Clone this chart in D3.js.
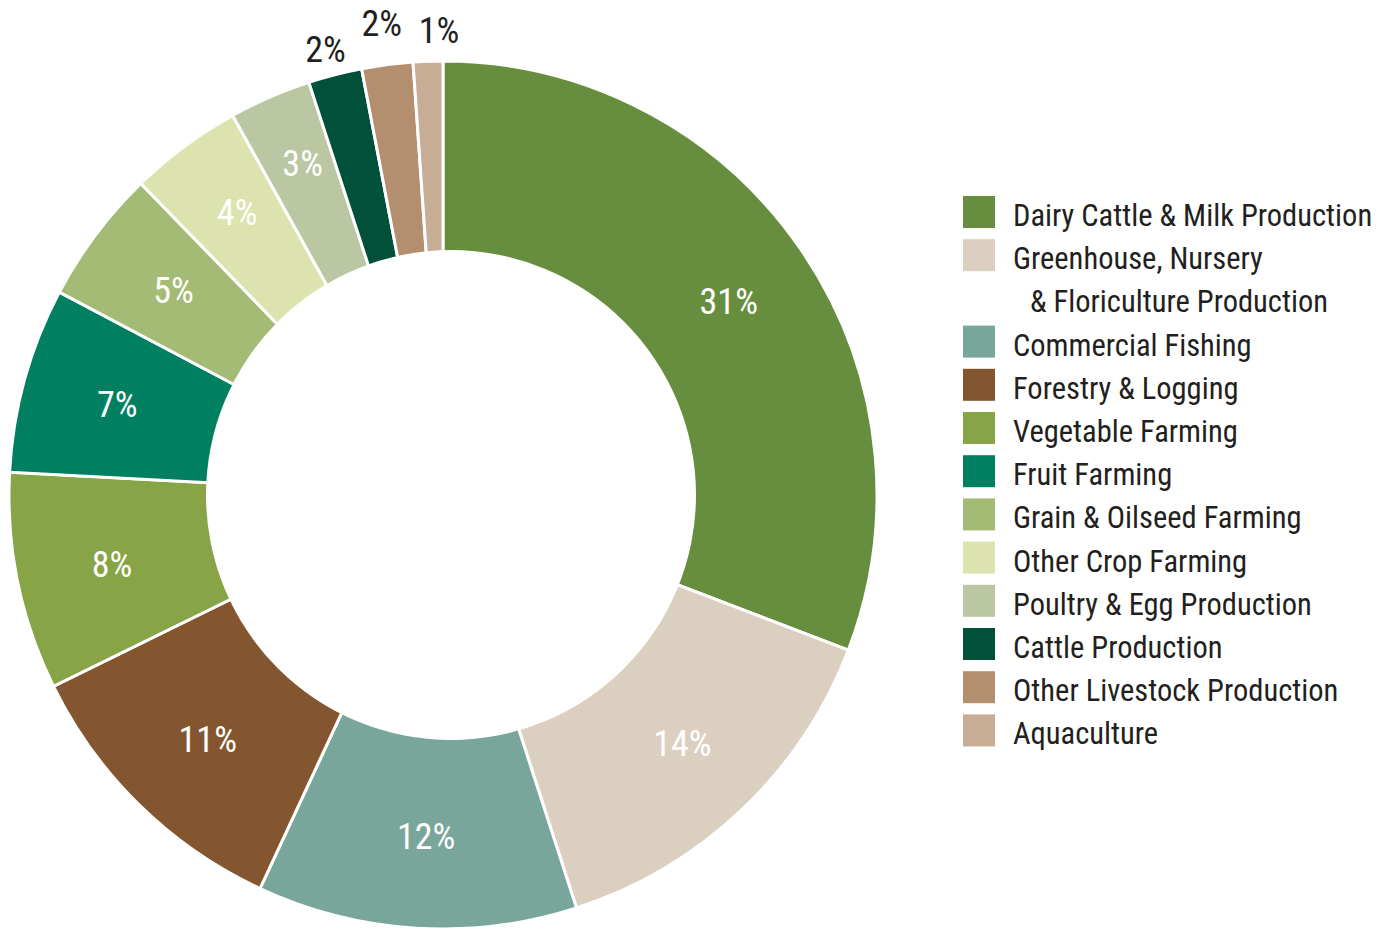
<!DOCTYPE html>
<html>
<head>
<meta charset="utf-8">
<script src="https://cdn.jsdelivr.net/npm/d3@7"></script>
<style>
  html, body { margin: 0; padding: 0; background: #fff; }
  svg { display: block; }
  text { font-family: "Liberation Sans Narrow", "Roboto Condensed", "Liberation Sans", sans-serif; }
</style>
</head>
<body>
<svg id="chart" width="1390" height="932"></svg>
<script>
// ---- data ----
const categories = [
  "Dairy Cattle & Milk Production",
  "Greenhouse, Nursery & Floriculture Production",
  "Commercial Fishing",
  "Forestry & Logging",
  "Vegetable Farming",
  "Fruit Farming",
  "Grain & Oilseed Farming",
  "Other Crop Farming",
  "Poultry & Egg Production",
  "Cattle Production",
  "Other Livestock Production",
  "Aquaculture"
];
const shares = [30.8, 14.2, 11.9, 10.8, 8.1, 6.9, 5.0, 4.2, 3.05, 2.0, 1.9, 1.1];
const shareLabels = ["31%", "14%", "12%", "11%", "8%", "7%", "5%", "4%", "3%", "2%", "2%", "1%"];
const legendLines = [
  ["Dairy Cattle & Milk Production"],
  ["Greenhouse, Nursery", "& Floriculture Production"],
  ["Commercial Fishing"],
  ["Forestry & Logging"],
  ["Vegetable Farming"],
  ["Fruit Farming"],
  ["Grain & Oilseed Farming"],
  ["Other Crop Farming"],
  ["Poultry & Egg Production"],
  ["Cattle Production"],
  ["Other Livestock Production"],
  ["Aquaculture"]
];
const colors = ["#678e3e", "#dbd0bf", "#78a69a", "#83562f", "#87a446", "#008060",
                "#a4bb76", "#dde3ae", "#bbc7a2", "#00503a", "#b38f6f", "#c8ad96"];

// ---- layout (styling) ----
const cx = 443, cy = 495, rOuter = 434;
const holeCx = 451, holeCy = 495, holeR = 245;
const labelCx = 447, labelR = 342;
const labelROverride = {7: 352, 8: 362};
const outsideIdx = [9, 10, 11];
const outsideR = {9: 460, 10: 476, 11: 465};
const outsideDx = {9: -3, 10: 0, 11: 12};

const svg = d3.select("#chart");
const color = d3.scaleOrdinal().domain(categories).range(colors);

const pie = d3.pie().sort(null).value(d => d.v).startAngle(0).endAngle(2 * Math.PI);
const data = categories.map((c, i) => ({ c, v: shares[i], label: shareLabels[i], i }));
const arcs = pie(data);
const arc = d3.arc().innerRadius(0).outerRadius(rOuter);

const g = svg.append("g").attr("transform", `translate(${cx},${cy})`);
g.selectAll("path.slice").data(arcs).join("path")
  .attr("class", "slice")
  .attr("d", arc)
  .attr("fill", d => color(d.data.c))
  .attr("stroke", "#fff")
  .attr("stroke-width", 3)
  .attr("stroke-linejoin", "miter");

// donut hole
svg.append("circle")
  .attr("cx", holeCx).attr("cy", holeCy).attr("r", holeR)
  .attr("fill", "#fff");

const lg = svg.append("g").attr("transform", `translate(${labelCx},${cy})`);
lg.selectAll("text.pct").data(arcs).join("text")
  .attr("class", "pct")
  .attr("transform", d => {
    const a = (d.startAngle + d.endAngle) / 2;
    const i = d.data.i;
    if (outsideIdx.includes(i)) {
      const r = outsideR[i];
      return `translate(${r * Math.sin(a) + outsideDx[i] - (labelCx - cx)},${-r * Math.cos(a)})`;
    }
    const r = labelROverride[i] || labelR;
    return `translate(${r * Math.sin(a)},${-r * Math.cos(a)})`;
  })
  .attr("text-anchor", "middle")
  .attr("dy", "0.36em")
  .attr("font-size", 36)
  .attr("fill", d => outsideIdx.includes(d.data.i) ? "#231f20" : "#ffffff")
  .text(d => d.data.label);

// ---- legend ----
const legX = 963, legY0 = 196, rowH = 43.2, sw = 32;
const leg = svg.append("g");
let row = 0;
legendLines.forEach((lines, i) => {
  const y = legY0 + row * rowH;
  leg.append("rect")
    .attr("x", legX).attr("y", y).attr("width", sw).attr("height", sw)
    .attr("fill", color(categories[i]));
  lines.forEach((ln, j) => {
    leg.append("text")
      .attr("x", j === 0 ? 1013 : 1030)
      .attr("y", y + (j * rowH) + sw / 2)
      .attr("dy", "0.46em")
      .attr("font-size", 30.5)
      .attr("fill", "#231f20")
      .text(ln);
  });
  row += lines.length;
});
</script>
</body>
</html>
